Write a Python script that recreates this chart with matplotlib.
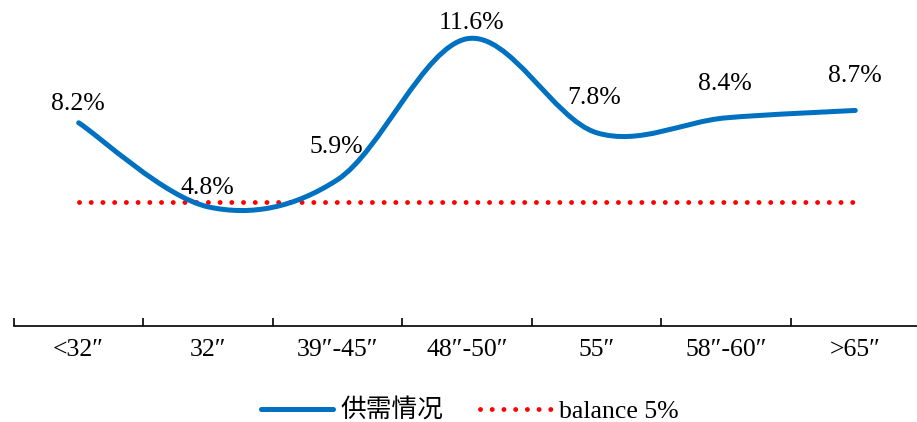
import matplotlib
matplotlib.use("Agg")
import matplotlib.pyplot as plt
from matplotlib.path import Path
from matplotlib.patches import PathPatch
from matplotlib.lines import Line2D

plt.rcParams['font.family'] = ['Liberation Serif', 'Noto Sans CJK SC', 'DejaVu Sans']

categories = ["<32″", "32″", "39″-45″", "48″-50″", "55″", "58″-60″", ">65″"]
supply_demand = [8.2, 4.8, 5.9, 11.6, 7.8, 8.4, 8.7]
balance = [5, 5, 5, 5, 5, 5, 5]
series_name = "供需情况"
balance_name = "balance 5%"

# label offsets from each point, in pixels (dx, dy up)
label_offsets = [(-1, 19), (-1, 19), (-1, 33), (4, 16), (-2, 35), (-1, 34), (0, 34)]

blue = "#0070C0"
red = "#FF0000"
dotted = (0, (0.01, 2.4))

fig = plt.figure(figsize=(9.17, 4.22), dpi=100)
ax = fig.add_axes([14 / 917, 96.5 / 422, 906 / 917, 309 / 422])

x = list(range(len(categories)))

# smoothed line (catmull-rom style bezier, like excel's smoothed line)
pts = list(zip(x, supply_demand))
verts = [pts[0]]
codes = [Path.MOVETO]
n = len(pts)
for i in range(n - 1):
    p0 = pts[i - 1] if i > 0 else pts[i]
    p1 = pts[i]
    p2 = pts[i + 1]
    p3 = pts[i + 2] if i + 2 < n else pts[i + 1]
    c1 = (p1[0] + (p2[0] - p0[0]) / 6, p1[1] + (p2[1] - p0[1]) / 6)
    c2 = (p2[0] - (p3[0] - p1[0]) / 6, p2[1] - (p3[1] - p1[1]) / 6)
    verts += [c1, c2, p2]
    codes += [Path.CURVE4, Path.CURVE4, Path.CURVE4]
patch = PathPatch(Path(verts, codes), facecolor="none", edgecolor=blue, lw=3.6,
                  capstyle="round", joinstyle="round", transform=ax.transData, zorder=3)
ax.add_patch(patch)

ax.plot(x, balance, color=red, lw=3.5, linestyle=dotted,
        dash_capstyle="round", zorder=2)

for i, v in enumerate(supply_demand):
    dx, dy = label_offsets[i]
    ax.annotate(f"{v:.1f}%", (i, v), xytext=(dx * 0.72, dy * 0.72),
                textcoords="offset points", ha="center", va="center",
                fontsize=18.5, color="black", zorder=4)

ax.set_xlim(-0.5, len(categories) - 0.5)
ax.set_ylim(0, 12.5)

for s in ["top", "right", "left"]:
    ax.spines[s].set_visible(False)
ax.spines["bottom"].set_linewidth(1.2)
ax.yaxis.set_visible(False)

ax.set_xticks(x)
ax.set_xticklabels(categories, fontsize=18.5)
ax.set_xticks([i - 0.5 for i in range(len(categories) + 1)], minor=True)
ax.tick_params(axis="x", which="major", length=0, pad=10)
ax.tick_params(axis="x", which="minor", direction="in", length=5.5, width=1.2)
ax.set_facecolor("none")

handles = [
    Line2D([], [], color=blue, lw=3.6, solid_capstyle="round"),
    Line2D([], [], color=red, lw=3.5, linestyle=dotted, dash_capstyle="round"),
]
fig.legend(handles, [series_name, balance_name], loc="center",
           bbox_to_anchor=(470 / 917, 11 / 422), ncol=2, frameon=False,
           fontsize=18.5, handlelength=2.8, handletextpad=0.3, columnspacing=1.4)

fig.savefig("out.png", dpi=100)
